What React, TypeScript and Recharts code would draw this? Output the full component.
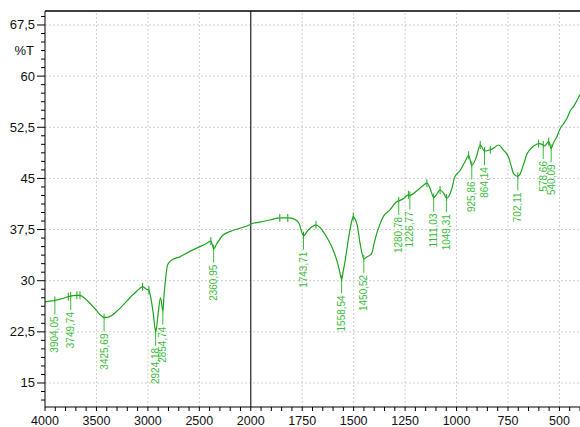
import { ComposedChart, Line, Scatter, XAxis, YAxis, ReferenceLine } from 'recharts';

// IR spectrum (wavenumber cm-1 / %T)
const wavenumbers = [
  4000, 3951, 3903, 3854, 3806, 3774, 3748, 3709, 3690, 3660, 3621, 3563, 3498, 3456, 3425,
  3383, 3352, 3311, 3272, 3223, 3175, 3126, 3077, 3051, 3012, 2990, 2974, 2948, 2924, 2900,
  2877, 2854, 2842, 2825, 2809, 2770, 2689, 2592, 2495, 2427, 2388, 2360, 2327, 2269, 2204,
  2107, 2010, 2000, 1956, 1907, 1859, 1820, 1786, 1765, 1757, 1744, 1721, 1703, 1683, 1664,
  1648, 1627, 1607, 1591, 1580, 1569, 1558, 1550, 1542, 1532, 1521, 1511, 1502, 1491, 1483,
  1469, 1450, 1437, 1412, 1401, 1388, 1372, 1356, 1323, 1290, 1281, 1260, 1234, 1227, 1193,
  1168, 1144, 1128, 1111, 1094, 1080, 1062, 1049, 1031, 1020, 1011, 982, 958, 941, 926,
  904, 885, 864, 836, 817, 796, 773, 747, 734, 723, 702, 690, 675, 657, 641,
  625, 601, 579, 573, 552, 540, 529, 511, 495, 480, 462, 446, 430, 417, 400,
];
const transmittance = [
  26.9, 27.0, 27.1, 27.3, 27.5, 27.66, 27.75, 27.85, 27.86, 27.86, 27.5, 26.7, 25.6, 24.9, 24.6,
  24.65, 24.9, 25.4, 25.95, 26.7, 27.5, 28.2, 28.9, 29.1, 28.75, 28.6, 27.7, 25.2, 22.5, 25.2,
  27.5, 25.6, 28.1, 30.6, 32.3, 33.0, 33.5, 34.3, 35.0, 35.5, 35.8, 34.7, 35.5, 36.7, 37.2,
  37.7, 38.2, 38.3, 38.6, 38.9, 39.2, 39.2, 39.0, 38.4, 37.6, 36.6, 37.4, 37.9, 38.2, 37.8,
  37.2, 36.2, 35.0, 33.8, 32.8, 31.5, 30.2, 31.5, 32.8, 34.8, 36.9, 38.5, 39.4, 38.9, 38.2,
  35.5, 33.2, 33.45, 34.0, 35.4, 36.9, 38.3, 39.4, 40.4, 41.6, 41.7, 42.0, 42.6, 42.5, 43.2,
  43.8, 44.3, 43.5, 42.2, 42.8, 43.3, 42.8, 42.1, 42.8, 43.8, 45.0, 46.2, 47.5, 48.4, 46.9,
  48.1, 49.9, 49.0, 49.2, 49.5, 49.9, 49.2, 48.1, 46.8, 45.7, 45.3, 45.7, 47.0, 48.6, 49.3,
  49.75, 50.1, 49.9, 49.75, 50.4, 49.4, 50.2, 51.2, 52.4, 53.0, 53.9, 55.0, 55.6, 56.3, 57.3,
];

const peakWavenumbers = [
  3904.05, 3749.74, 3425.69, 2924.18, 2854.74, 2360.95, 1743.71, 1558.54, 1450.52,
  1280.78, 1226.77, 1111.03, 1049.31, 925.86, 864.14, 702.11, 578.66, 540.09,
];
const peakTransmittance = [
  27.1, 27.75, 24.6, 22.5, 25.6, 34.7, 36.6, 30.2, 33.2,
  41.7, 42.5, 42.2, 42.1, 46.9, 49.0, 45.3, 49.9, 49.4,
];
const peakLabels = [
  '3904,05', '3749,74', '3425,69', '2924,18', '2854,74', '2360,95', '1743,71', '1558,54', '1450,52',
  '1280,78', '1226,77', '1111,03', '1049,31', '925,86', '864,14', '702,11', '578,66', '540,09',
];

// unlabelled picks drawn as small ticks on the trace
const markerWavenumbers = [3774, 3690, 3660, 3051, 2990, 2388, 1859, 1820, 1683, 1502, 1234, 1144, 1080, 941, 885, 836, 601, 552];
const markerTransmittance = [27.66, 27.86, 27.86, 29.1, 28.6, 35.8, 39.2, 39.2, 38.2, 39.4, 42.6, 44.3, 43.3, 48.4, 49.9, 49.2, 50.1, 50.4];

const xTickLabels = [4000, 3500, 3000, 2500, 2000, 1750, 1500, 1250, 1000, 750, 500];
const yTickLabels = [15, 22.5, 30, 37.5, 45, 52.5, 60, 67.5];
const yUnit = '%T';

const LINE_COLOR = '#1ea51e';
const LABEL_COLOR = '#3cbc3c';
const GRID_COLOR = '#cfcfcf';
const FONT = '"Liberation Sans", Arial, sans-serif';
const Y_MIN = 11.48;
const Y_MAX = 69.55;

// x axis is split at 2000 cm-1: 4000-2000 is squeezed to half scale
const toAxis = (wn: number) => (wn >= 2000 ? (4000 - wn) / 2 : 1000 + (2000 - wn));
const X_MAX = toAxis(400);

const spectrum = wavenumbers.map((wn, i) => ({ x: toAxis(wn), t: transmittance[i] }));
const peaks = peakWavenumbers.map((wn, i) => ({ x: toAxis(wn), t: peakTransmittance[i], label: peakLabels[i] }));
const markers = markerWavenumbers.map((wn, i) => ({ x: toAxis(wn), t: markerTransmittance[i] }));

const xMajor = xTickLabels.map(toAxis);
const xTicks = Array.from({ length: X_MAX / 50 + 1 }, (_, i) => i * 50);
const yTicks = Array.from({ length: 46 }, (_, i) => 12.5 + i * 1.25);
const UNIT_POS = 63.75;

const fmt = (v: number) => String(v).replace('.', ',');

const XTick = ({ x, y, payload }: any) => {
  const idx = xMajor.indexOf(payload.value);
  return (
    <g>
      <line x1={x} x2={x} y1={y} y2={y + 4} stroke="#000" />
      {idx >= 0 && (
        <text x={x} y={y + 18} textAnchor="middle" fontSize={12.5} fontFamily={FONT} fill="#111">
          {xTickLabels[idx]}
        </text>
      )}
    </g>
  );
};

const YTick = ({ x, y, payload }: any) => {
  const v = payload.value;
  const major = yTickLabels.includes(v);
  return (
    <g>
      <line x1={x - (major ? 8 : 4)} x2={x} y1={y} y2={y} stroke="#000" />
      {major && (
        <text x={x - 10} y={y + 4.5} textAnchor="end" fontSize={13} fontFamily={FONT} fill="#111">
          {fmt(v)}
        </text>
      )}
      {v === UNIT_POS && (
        <text x={x - 11} y={y + 4.5} textAnchor="end" fontSize={13} fontFamily={FONT} fill="#111">
          {yUnit}
        </text>
      )}
    </g>
  );
};

const PeakMark = ({ cx, cy, payload }: any) => (
  <g>
    <line x1={cx} x2={cx} y1={cy - 4} y2={cy + 3} stroke={LINE_COLOR} />
    <line x1={cx} x2={cx} y1={cy + 3} y2={cy + 14} stroke={LABEL_COLOR} />
    <text
      transform={`translate(${cx + 3.5},${cy + 16}) rotate(-90)`}
      textAnchor="end"
      fontSize={10}
      fontFamily={FONT}
      fill={LABEL_COLOR}
    >
      {payload.label}
    </text>
  </g>
);

const TickMark = ({ cx, cy }: any) => (
  <line x1={cx} x2={cx} y1={cy - 4} y2={cy + 4} stroke={LINE_COLOR} />
);

export default function App() {
  return (
    <div style={{ position: 'absolute', left: 0, top: 0, width: 580, height: 427, background: '#fff' }}>
      <ComposedChart width={580} height={427} data={spectrum} margin={{ top: 11, right: 0, bottom: 0, left: 0 }}>
        {yTickLabels.map((v) => (
          <ReferenceLine key={`h${v}`} y={v} stroke={GRID_COLOR} strokeDasharray="2 2" />
        ))}
        {xMajor.filter((p) => p > 0 && p !== 1000).map((p) => (
          <ReferenceLine key={`v${p}`} x={p} stroke={GRID_COLOR} strokeDasharray="2 2" />
        ))}
        <ReferenceLine x={1000} stroke="#222" strokeWidth={1.2} />
        <ReferenceLine y={Y_MAX} stroke="#000" strokeWidth={1.5} />
        <XAxis
          dataKey="x"
          type="number"
          domain={[0, X_MAX]}
          ticks={xTicks}
          interval={0}
          height={20}
          tickSize={0}
          tickMargin={0}
          tick={<XTick />}
          axisLine={{ stroke: '#000' }}
          tickLine={false}
        />
        <YAxis
          type="number"
          domain={[Y_MIN, Y_MAX]}
          ticks={yTicks}
          interval={0}
          width={45}
          tickSize={0}
          tickMargin={0}
          tick={<YTick />}
          axisLine={{ stroke: '#000' }}
          tickLine={false}
        />
        <Line
          type="monotone"
          dataKey="t"
          stroke={LINE_COLOR}
          strokeWidth={1.2}
          dot={false}
          isAnimationActive={false}
        />
        <Scatter data={markers} dataKey="t" shape={<TickMark />} isAnimationActive={false} />
        <Scatter data={peaks} dataKey="t" shape={<PeakMark />} isAnimationActive={false} />
      </ComposedChart>
    </div>
  );
}
